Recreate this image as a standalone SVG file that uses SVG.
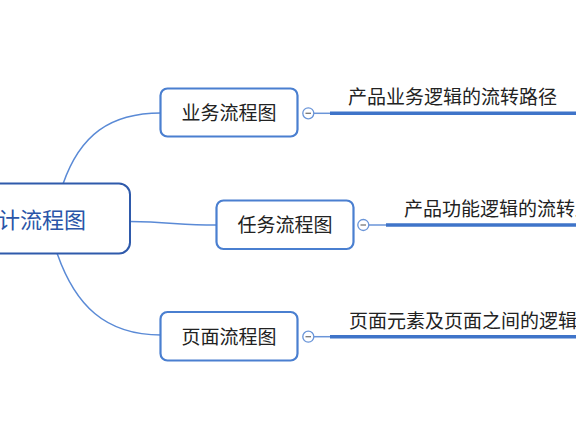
<svg xmlns="http://www.w3.org/2000/svg" width="576" height="432" viewBox="0 0 576 432">
<style>
.node{fill:#fff;stroke:#4a7fd0;stroke-width:2.2}
.root{fill:#fff;stroke:#2f5aab;stroke-width:2}
.t{font-family:"Noto Sans CJK SC","Noto Sans",sans-serif;fill:#222;font-size:19px}
.rt{font-family:"Noto Sans CJK SC","Noto Sans",sans-serif;fill:#2a55a8;font-size:22px}
.c{fill:none;stroke:#5a8ad6;stroke-width:1.5}
.thick{stroke:#3f74c9;stroke-width:3.5}
.thin{stroke:#6a95d8;stroke-width:1.5}
.tog{fill:#fff;stroke:#6a95d8;stroke-width:1.3}
.minus{stroke:#777;stroke-width:1.3}
</style>
<rect width="576" height="432" fill="#fff"/>
<g id="connectors">
<path class="c" d="M63,184 C80,135 110,113 161,113"/>
<path class="c" d="M130,221.5 C170,222 180,225 216,225"/>
<path class="c" d="M57,253 C75,305 105,335 161,335"/>
</g>
<g id="root">
<rect class="root" x="-100" y="183.5" width="230" height="70" rx="11"/>
<text class="rt" x="-2" y="228">计流程图</text>
</g>
<g id="n1">
<rect class="node" x="160.5" y="88.5" width="137" height="48" rx="7"/>
<text class="t" x="229" y="120" text-anchor="middle">业务流程图</text>
<line class="thin" x1="314" y1="113.3" x2="330" y2="113.3"/>
<circle class="tog" cx="308.3" cy="113.3" r="5.5"/>
<line class="minus" x1="305.5" y1="113.3" x2="311" y2="113.3"/>
<line class="thick" x1="330" y1="113.3" x2="576" y2="113.3"/>
<text class="t" x="348" y="104">产品业务逻辑的流转路径</text>
</g>
<g id="n2">
<rect class="node" x="216.5" y="200.5" width="137" height="48.5" rx="7"/>
<text class="t" x="285" y="232" text-anchor="middle">任务流程图</text>
<line class="thin" x1="369" y1="225" x2="386" y2="225"/>
<circle class="tog" cx="363.3" cy="225" r="5.5"/>
<line class="minus" x1="360.5" y1="225" x2="366" y2="225"/>
<line class="thick" x1="386" y1="225" x2="576" y2="225"/>
<text class="t" x="404" y="216">产品功能逻辑的流转路径</text>
</g>
<g id="n3">
<rect class="node" x="160.5" y="312" width="137" height="48.5" rx="7"/>
<text class="t" x="229" y="343.5" text-anchor="middle">页面流程图</text>
<line class="thin" x1="314" y1="336.7" x2="330" y2="336.7"/>
<circle class="tog" cx="308.3" cy="336.7" r="5.5"/>
<line class="minus" x1="305.5" y1="336.7" x2="311" y2="336.7"/>
<line class="thick" x1="330" y1="336.7" x2="576" y2="336.7"/>
<text class="t" x="349" y="327.5">页面元素及页面之间的逻辑</text>
</g>
</svg>
